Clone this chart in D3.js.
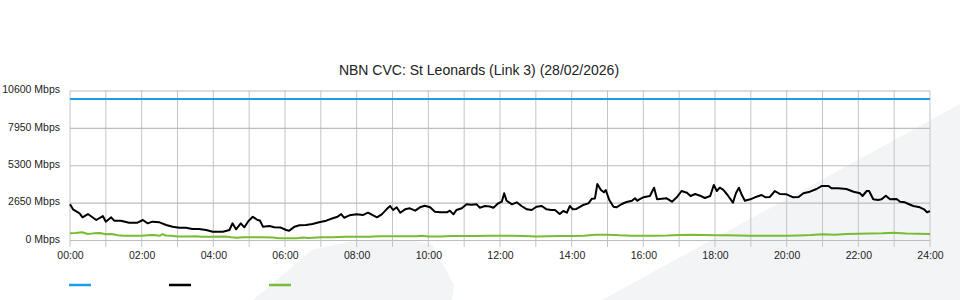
<!DOCTYPE html>
<html>
<head>
<meta charset="utf-8">
<script src="https://cdnjs.cloudflare.com/ajax/libs/d3/7.8.5/d3.min.js"></script>
<style>
  html, body { margin: 0; padding: 0; background: #fff; }
  svg { display: block; font-family: "Liberation Sans", Arial, sans-serif; }
</style>
</head>
<body>
<div id="chart"></div>
<script>
const chartTitle = 'NBN CVC: St Leonards (Link 3) (28/02/2026)';

// y ticks in Mbps, x ticks in minutes since midnight
const yTicks = [0, 2650, 5300, 7950, 10600];
const xTicks = [0, 120, 240, 360, 480, 600, 720, 840, 960, 1080, 1200, 1320, 1440];
const hourGrid = [0, 60, 120, 180, 240, 300, 360, 420, 480, 540, 600, 660, 720, 780,
  840, 900, 960, 1020, 1080, 1140, 1200, 1260, 1320, 1380, 1440];

// [minute, Mbps]
const capacity = [[0, 10000], [1440, 10000]];

const inbound = [
  [0,2530],[5,2175],[16,1890],[21,1610],[30,1840],[44,1418],[55,1700],[60,1300],[69,1610],[74,1370],
  [85,1370],[99,1230],[113,1230],[122,1418],[130,1180],[138,1300],[150,1250],[161,1063],[172,945],[183,873],
  [194,873],[205,780],[216,780],[228,709],[239,590],[256,590],[267,709],[272,1180],[278,757],[286,1180],
  [292,900],[298,1300],[306,1650],[314,1418],[318,1380],[323,945],[334,990],[342,900],[353,880],[362,709],
  [367,660],[376,945],[384,1040],[395,1063],[406,1134],[417,1255],[429,1370],[440,1540],[448,1650],[454,1840],
  [459,1580],[468,1750],[480,1820],[491,1780],[499,1935],[514,1610],[522,1820],[530,2175],[536,2410],[541,2127],
  [547,2318],[553,1935],[561,2175],[569,2247],[578,2080],[586,2318],[594,2430],[603,2318],[611,2006],[620,1964],
  [631,1964],[636,2080],[642,1820],[647,2127],[656,2247],[664,2530],[672,2500],[681,2530],[686,2290],[695,2410],
  [703,2380],[709,2290],[717,2600],[723,2715],[727,3310],[731,2786],[740,2530],[748,2673],[756,2410],[765,2175],
  [773,2127],[781,2360],[790,2410],[798,2175],[806,2127],[812,2127],[820,1840],[826,2056],[832,1935],[837,2410],
  [842,2175],[848,2200],[859,2480],[868,2600],[874,2928],[879,2950],[883,3970],[889,3545],[894,3380],[897,3545],
  [903,2836],[910,2360],[915,2318],[924,2552],[932,2694],[941,2786],[946,2956],[950,2780],[954,2900],[960,3027],
  [971,3120],[978,3710],[983,2885],[991,2920],[999,2956],[1008,2715],[1016,3027],[1024,3474],[1033,3355],[1039,3120],
  [1047,3260],[1055,3140],[1063,2978],[1072,3120],[1078,3900],[1083,3474],[1088,3710],[1094,3550],[1101,3190],[1110,2645],
  [1115,3310],[1120,3710],[1125,3190],[1130,2786],[1139,2885],[1147,3027],[1158,3190],[1165,3027],[1172,3050],[1180,3474],
  [1189,3260],[1200,3240],[1211,3027],[1220,3050],[1228,3310],[1239,3425],[1250,3616],[1259,3830],[1270,3830],[1275,3665],
  [1286,3665],[1300,3616],[1312,3425],[1323,3310],[1327,3120],[1334,3474],[1338,3474],[1345,2885],[1353,2836],[1359,2885],
  [1366,3140],[1373,2885],[1384,2907],[1390,2715],[1398,2673],[1404,2552],[1412,2410],[1423,2318],[1430,2175],[1435,1964],
  [1440,2050]
];

const outbound = [
  [0,475],[10,500],[20,545],[30,420],[40,470],[50,500],[60,410],[70,420],[80,330],[90,300],
  [100,300],[120,305],[130,330],[140,360],[150,300],[155,420],[160,320],[170,300],[180,240],[200,240],
  [210,270],[220,230],[240,230],[260,250],[270,200],[280,165],[290,200],[300,190],[320,190],[340,180],
  [350,130],[360,120],[380,130],[390,170],[400,140],[420,190],[440,200],[460,230],[480,230],[500,230],
  [520,260],[540,260],[560,260],[580,270],[590,300],[600,250],[620,240],[640,280],[660,290],[680,290],
  [700,300],[720,310],[740,300],[760,290],[780,250],[800,270],[820,290],[840,290],[860,300],[880,380],
  [900,380],[920,330],[940,310],[960,310],[980,300],[1000,320],[1020,360],[1040,370],[1060,350],[1080,330],
  [1100,340],[1120,320],[1140,300],[1160,300],[1180,300],[1200,300],[1220,320],[1240,350],[1260,400],[1280,380],
  [1300,420],[1320,440],[1340,460],[1360,480],[1380,520],[1400,460],[1420,440],[1440,420]
];

const seriesColors = ['#1c9fe2', '#000000', '#77bd32'];

const width = 960, height = 300;
const margin = {top: 90.5, right: 30, bottom: 60, left: 70};
const plotW = width - margin.left - margin.right;
const plotH = height - margin.top - margin.bottom;

const pad2 = n => String(n).padStart(2, '0');
const timeLabel = m => `${pad2(Math.floor(m / 60))}:${pad2(m % 60)}`;

const svg = d3.select('#chart').append('svg')
  .attr('width', width)
  .attr('height', height);

// faint logo watermark behind the plot
svg.append('path')
  .attr('d', 'M253,300 L312,250 Q375,232 432,244 L454,285 L452,300 Z')
  .attr('fill', '#f3f4f6');
svg.append('path')
  .attr('d', 'M602,300 L960,104 L960,300 Z')
  .attr('fill', '#f3f4f6');

svg.append('text')
  .attr('x', 479)
  .attr('y', 75)
  .attr('text-anchor', 'middle')
  .attr('font-size', '14px')
  .attr('fill', '#222')
  .text(chartTitle);

const g = svg.append('g')
  .attr('transform', `translate(${margin.left},${margin.top})`);

const x = d3.scaleLinear().domain([0, 1440]).range([0, plotW]);
const y = d3.scaleLinear().domain([0, 10600]).range([plotH, 0]);

// hourly vertical grid, running a little below the zero line
g.append('g')
  .selectAll('line')
  .data(hourGrid)
  .join('line')
    .attr('x1', d => x(d))
    .attr('x2', d => x(d))
    .attr('y1', 0)
    .attr('y2', plotH + 7)
    .attr('stroke', '#c4c4c4')
    .attr('stroke-width', 1);

// horizontal grid + y labels
const yAxis = g.append('g')
  .call(d3.axisLeft(y)
    .tickValues(yTicks)
    .tickSize(-plotW)
    .tickPadding(10)
    .tickFormat(d => `${d} Mbps`));
yAxis.select('.domain').remove();
yAxis.selectAll('.tick line')
  .attr('stroke', '#bdbdbd')
  .attr('stroke-width', 1.2);
yAxis.selectAll('.tick text')
  .attr('font-size', '10.5px')
  .attr('font-family', '"Liberation Sans", Arial, sans-serif')
  .attr('fill', '#222')
  .attr('dy', '0.22em');

// x labels
const xAxis = g.append('g')
  .attr('transform', `translate(0,${plotH})`)
  .call(d3.axisBottom(x)
    .tickValues(xTicks)
    .tickSize(0)
    .tickPadding(12)
    .tickFormat(timeLabel));
xAxis.select('.domain').remove();
xAxis.selectAll('.tick text')
  .attr('font-size', '10.5px')
  .attr('font-family', '"Liberation Sans", Arial, sans-serif')
  .attr('fill', '#222');

const line = d3.line()
  .x(d => x(d[0]))
  .y(d => y(d[1]));

[capacity, inbound, outbound].forEach((series, i) => {
  g.append('path')
    .datum(series)
    .attr('fill', 'none')
    .attr('stroke', seriesColors[i])
    .attr('stroke-width', 2)
    .attr('stroke-linejoin', 'round')
    .attr('d', line);
});

// legend swatches (no labels in the original)
svg.append('g')
  .attr('transform', 'translate(69,285)')
  .selectAll('line')
  .data(seriesColors)
  .join('line')
    .attr('x1', (d, i) => i * 100)
    .attr('x2', (d, i) => i * 100 + 22)
    .attr('y1', 0)
    .attr('y2', 0)
    .attr('stroke', d => d)
    .attr('stroke-width', 2.5);
</script>
</body>
</html>
